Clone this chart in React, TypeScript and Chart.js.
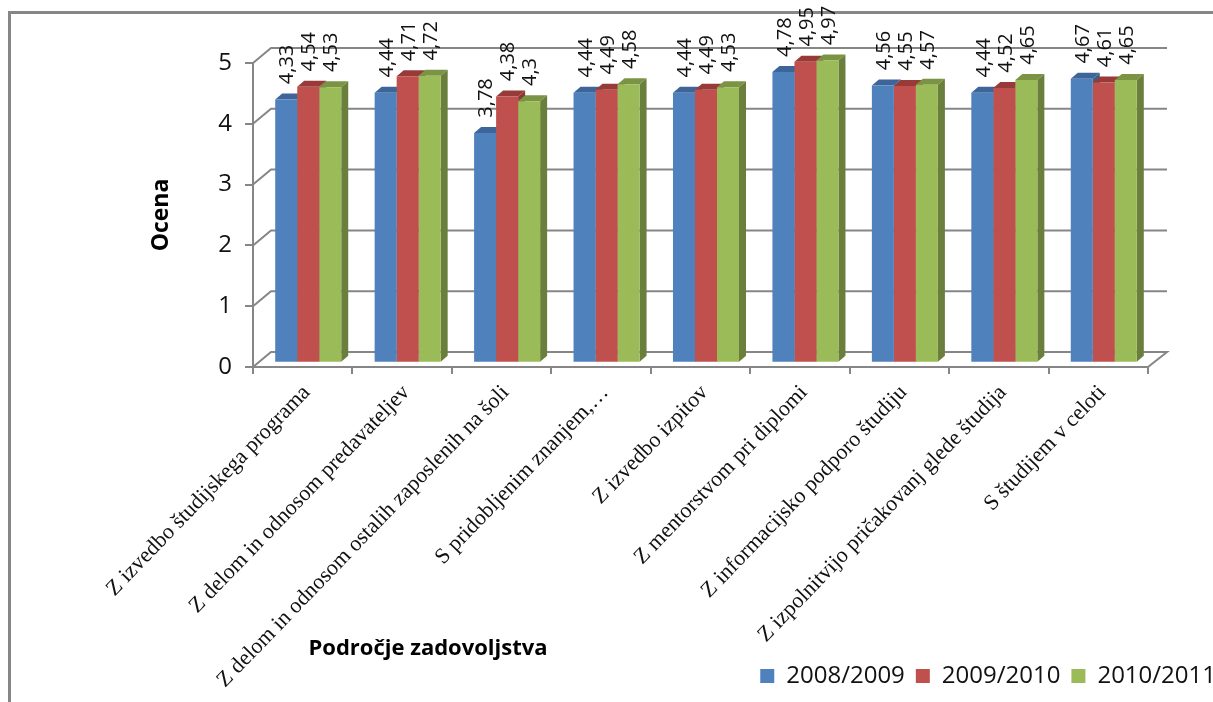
import React, { useEffect, useRef } from "react";
import { Chart, registerables } from "chart.js";

Chart.register(...registerables);

const categories = [
  "Z izvedbo študijskega programa",
  "Z delom in odnosom predavateljev",
  "Z delom in odnosom ostalih zaposlenih na šoli",
  "S pridobljenim znanjem,…",
  "Z izvedbo izpitov",
  "Z mentorstvom pri diplomi",
  "Z informacijsko podporo študiju",
  "Z izpolnitvijo pričakovanj glede študija",
  "S študijem v celoti",
];
const series2008 = [4.33, 4.44, 3.78, 4.44, 4.44, 4.78, 4.56, 4.44, 4.67];
const series2009 = [4.54, 4.71, 4.38, 4.49, 4.49, 4.95, 4.55, 4.52, 4.61];
const series2010 = [4.53, 4.72, 4.3, 4.58, 4.53, 4.97, 4.57, 4.65, 4.65];
const seriesNames = ["2008/2009", "2009/2010", "2010/2011"];
const frontColors = ["#4F81BD", "#C0504D", "#9BBB59"];
const topColors = ["#3D659A", "#973A38", "#7A9444"];
const sideColors = ["#3A5F8E", "#8C3836", "#6A7F3B"];
const yTicks = [0, 1, 2, 3, 4, 5];
const axisTitleY = "Ocena";
const axisTitleX = "Področje zadovoljstva";

const GRAY = "#868686";
const FONT = "'Open Sans'";

const scene3d = {
  id: "scene3d",
  beforeDraw(chart: any) {
    const { ctx } = chart;
    if (chart.legend) chart.legend.right = 1227;
    // long rotated labels run past the scale box, so let them reach the page bottom
    chart.scales.x.bottom = 702;
    ctx.save();
    ctx.strokeStyle = GRAY;
    ctx.lineWidth = 3;
    ctx.beginPath();
    ctx.moveTo(9.5, 702);
    ctx.lineTo(9.5, 12.5);
    ctx.lineTo(1213, 12.5);
    ctx.stroke();
    ctx.restore();
  },
  beforeDatasetsDraw(chart: any) {
    const { ctx, scales, chartArea } = chart;
    const wallDx = 18;
    const wallDy = -15;
    ctx.save();
    ctx.strokeStyle = GRAY;
    ctx.lineWidth = 2;
    yTicks.forEach((v) => {
      const y = scales.y.getPixelForValue(v);
      ctx.beginPath();
      ctx.moveTo(chartArea.left, y);
      ctx.lineTo(chartArea.left + wallDx, y + wallDy);
      ctx.lineTo(chartArea.right + wallDx + 1, y + wallDy);
      if (v === 0) ctx.lineTo(chartArea.right, y);
      ctx.stroke();
    });
    ctx.restore();

    // bars stand a little behind the front plane
    ctx.save();
    ctx.translate(5.5, -4.3);
    const depthX = 7;
    const depthY = -6;
    categories.forEach((_, i) => {
      chart.data.datasets.forEach((_d: any, di: number) => {
        const bar = chart.getDatasetMeta(di).data[i];
        const l = bar.x - bar.width / 2;
        const r = bar.x + bar.width / 2;
        ctx.fillStyle = topColors[di];
        ctx.beginPath();
        ctx.moveTo(l, bar.y);
        ctx.lineTo(l + depthX, bar.y + depthY);
        ctx.lineTo(r + depthX, bar.y + depthY);
        ctx.lineTo(r, bar.y);
        ctx.closePath();
        ctx.fill();
        ctx.fillStyle = sideColors[di];
        ctx.beginPath();
        ctx.moveTo(r, bar.y);
        ctx.lineTo(r + depthX, bar.y + depthY);
        ctx.lineTo(r + depthX, bar.base + depthY);
        ctx.lineTo(r, bar.base);
        ctx.closePath();
        ctx.fill();
      });
    });
  },
  afterDatasetsDraw(chart: any) {
    const { ctx } = chart;
    ctx.restore();
    ctx.save();
    ctx.fillStyle = "#111";
    ctx.font = `20px ${FONT}`;
    chart.data.datasets.forEach((d: any, di: number) => {
      chart.getDatasetMeta(di).data.forEach((bar: any, i: number) => {
        ctx.save();
        ctx.translate(bar.x + 7, bar.y - 19.5);
        ctx.rotate(-Math.PI / 2);
        ctx.textAlign = "left";
        ctx.textBaseline = "middle";
        ctx.fillText(String(d.data[i]).replace(".", ","), 0, 0);
        ctx.restore();
      });
    });
    ctx.restore();
  },
  afterDraw(chart: any) {
    const { ctx } = chart;
    ctx.save();
    ctx.fillStyle = "#000";
    ctx.font = `bold 22px ${FONT}`;
    ctx.textAlign = "center";
    ctx.textBaseline = "middle";
    ctx.fillText(axisTitleX, 428, 649);
    ctx.restore();
  },
};

export default function App() {
  const ref = useRef<HTMLCanvasElement>(null);
  useEffect(() => {
    const chart = new Chart(ref.current as HTMLCanvasElement, {
      type: "bar",
      data: {
        labels: categories,
        datasets: [series2008, series2009, series2010].map((data, i) => ({
          label: seriesNames[i],
          data,
          backgroundColor: frontColors[i],
          borderWidth: 0,
          categoryPercentage: 0.664,
          barPercentage: 1,
          clip: false as any,
        })),
      },
      options: {
        responsive: false,
        animation: false,
        layout: { padding: { left: 148, right: 65, top: 63, bottom: 4 } },
        plugins: {
          tooltip: { enabled: false },
          legend: {
            position: "bottom",
            align: "end",
            labels: {
              boxWidth: 14,
              boxHeight: 14,
              padding: 11,
              color: "#111",
              font: { family: FONT, size: 24 },
            },
          },
        },
        scales: {
          x: {
            afterFit(scale: any) {
              scale.height = 286;
            },
            grid: {
              drawOnChartArea: false,
              color: GRAY,
              lineWidth: 2,
              tickLength: 7,
            },
            border: { color: GRAY, width: 2 },
            ticks: {
              autoSkip: false,
              maxRotation: 46,
              minRotation: 46,
              padding: 6,
              labelOffset: 4,
              color: "#111",
              font: { family: "'Liberation Serif'", size: 22 },
            },
          },
          y: {
            min: 0,
            max: 5,
            afterFit(scale: any) {
              scale.width = 105;
            },
            grid: {
              drawOnChartArea: false,
              color: GRAY,
              lineWidth: 2,
              tickLength: 8,
            },
            border: { color: GRAY, width: 2 },
            title: {
              display: true,
              text: axisTitleY,
              color: "#000",
              padding: 0,
              font: { family: FONT, size: 23, weight: "bold" },
            },
            ticks: {
              stepSize: 1,
              padding: 13,
              color: "#111",
              font: { family: FONT, size: 24 },
            },
          },
        },
      },
      plugins: [scene3d],
    } as any);
    return () => chart.destroy();
  }, []);
  return (
    <div style={{ position: "fixed", left: 0, top: 0, width: 1213, height: 702, background: "#fff" }}>
      <canvas ref={ref} width={1213} height={702} style={{ display: "block" }} />
    </div>
  );
}
